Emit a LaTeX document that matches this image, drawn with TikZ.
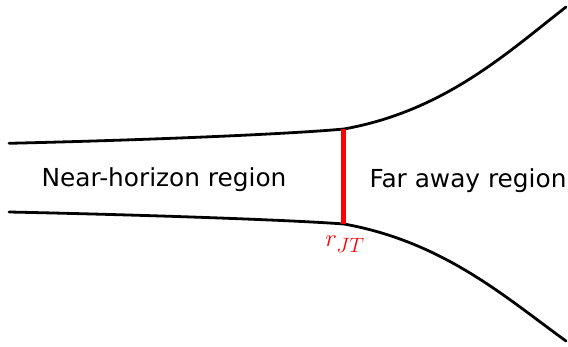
\documentclass[tikz,border=0pt]{standalone}
\usepackage{fontspec}
\setmainfont{DejaVu Sans}
\begin{document}
\begin{tikzpicture}[x=1pt,y=-1pt,
  wall/.style={line width=2.8pt,line cap=round},
  cut/.style={red,line width=4.5pt},
  regionlabel/.style={anchor=base,inner sep=0pt,font=\fontsize{24.8}{28}\selectfont},
  cutlabel/.style={red,anchor=base,inner sep=0pt,font=\fontsize{28}{32}\selectfont}]
\useasboundingbox (0,0) rectangle (568,347);
\draw[wall] (9,143.3) .. controls (150,140) and (290,134) .. (344,129)
  .. controls (444,111) and (506,53.8) .. (566,7);
\draw[wall] (9,212) .. controls (150,215) and (290,220) .. (344,224)
  .. controls (444,242) and (506,297.8) .. (566,341);
\coordinate (cuttop) at (343.5,129);
\coordinate (cutbot) at (343.5,224.5);
\draw[cut] (cuttop) -- (cutbot);
\node[regionlabel] (near) at (164,187) {Near-horizon region};
\node[regionlabel] (far) at (468,188) {Far away region};
\node[cutlabel] (rjt) at (345,247) {$r_{JT}$};
\end{tikzpicture}
\end{document}
